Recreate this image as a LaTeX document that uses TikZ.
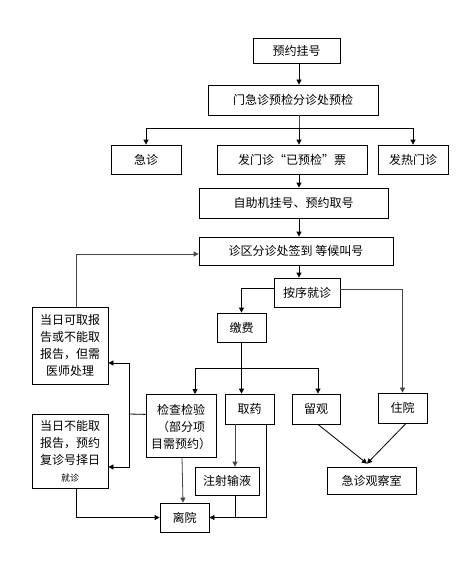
\documentclass[tikz,border=0pt]{standalone}
\usepackage{fontspec}
\setmainfont{Noto Sans CJK SC}
\usetikzlibrary{arrows.meta,calc}

\begin{document}
\begin{tikzpicture}[
  x=1pt, y=-1pt,
  font=\fontsize{12}{17}\selectfont,
  >={Triangle[length=5pt,width=5pt]},
  box/.style={draw, line width=0.8pt, inner sep=0pt, align=center, fill=white},
  flow/.style={->, line width=0.8pt},
  gflow/.style={flow, draw=gray!55!black},
  line/.style={line width=0.8pt},
  gline/.style={line, draw=gray!55!black},
]
\useasboundingbox[fill=white] (0,0) rectangle (468,567);

% ---- top of the flow
\node[box, minimum width=87, minimum height=25]  (yuyue)  at (296.5,50.5) {预约挂号};
\node[box, minimum width=170, minimum height=30] (yujian) at (293,100)    {门急诊预检分诊处预检};
\node[box, minimum width=70, minimum height=29]  (jizhen) at (146,159.5)  {急诊};
\node[box, minimum width=150, minimum height=29] (famen)  at (292,159.5)  {发门诊“已预检”票};
\node[box, minimum width=70, minimum height=29]  (fare)   at (413,159.5)  {发热门诊};
\node[box, minimum width=189, minimum height=30] (zizhu)  at (293.5,203)  {自助机挂号、预约取号};
\node[box, minimum width=194, minimum height=28] (fenzhen) at (296,251)   {诊区分诊处签到 等候叫号};
\node[box, minimum width=66, minimum height=29]  (anxu)   at (307,292.5)  {按序就诊};
\node[box, minimum width=49, minimum height=29]  (jiaofei) at (241.5,327.5) {缴费};

% ---- report boxes on the left
\node[box, minimum width=76, minimum height=77] (baogao1) at (70,345.5)
  {当日可取报\\告或不能取\\报告，但需\\医师处理};
\node[box, minimum width=76, minimum height=74] (baogao2) at (70,451)
  {当日不能取\\报告，预约\\复诊号择日\\{\fontsize{9}{12}\selectfont 就诊}};

% ---- after paying
\node[box, minimum width=70, minimum height=63, anchor=north] (jiancha) at (181,394)
  {\rule{0pt}{13pt}检查检验\\（部分项\\目需预约）};
\node[box, minimum width=49, minimum height=30] (quyao)   at (249.5,409) {取药};
\node[box, minimum width=48, minimum height=30] (liuguan) at (316,409)   {留观};
\node[box, minimum width=49, minimum height=30] (zhuyuan) at (402.5,408) {住院};
\node[box, minimum width=64, minimum height=28] (zhushe)  at (227,481)   {注射输液};
\node[box, minimum width=49, minimum height=29] (liyuan)  at (184.5,517.5) {离院};
\node[box, minimum width=89, minimum height=27] (guancha) at (371.5,480.5) {急诊观察室};

% ---- main line
\draw[flow] ($(yuyue.south)+(2.5,0)$) -- ($(yujian.north)+(6,0)$);
\draw[gline] ($(yujian.south)+(6,0)$) -- ++(0,13) coordinate (br1);
\draw[flow] (br1) -| (jizhen.north);
\draw[flow] (br1) -| (fare.north);
\draw[flow] (br1) -- (br1 |- famen.north);
\draw[flow] ($(famen.south)+(7,0)$) -- ($(zizhu.north)+(5.5,0)$);
\draw[flow] ($(zizhu.south)+(5.5,0)$) -- ($(fenzhen.north)+(3,0)$);
\draw[flow] ($(fenzhen.south)+(3,0)$) -- ($(anxu.north)+(-8,0)$);

% ---- branches from the visit
\draw[flow] ($(anxu.west)+(0,-4)$) -| (jiaofei.north);
\draw[gflow] ($(anxu.east)+(0,-3)$) -| (zhuyuan.north);
\draw[line] (jiaofei.south) -- ++(0,26) coordinate (br2);
\draw[flow] (br2) -| ($(jiancha.north)+(14,0)$);
\draw[flow] (br2) -- (br2 |- quyao.north);
\draw[flow] (br2) -| ($(liuguan.north)+(2,0)$);

% ---- reports loop back
\draw[line] ($(jiancha.west)+(0,-11.5)$) -- (129,414) coordinate (fb);
\draw[flow] (fb) |- ($(baogao1.east)+(0,17.5)$);
\draw[flow] (fb) |- ($(baogao2.east)+(0,16)$);
\draw[gflow] ($(baogao1.north)+(6,0)$) |- ($(fenzhen.west)+(0,3)$);

% ---- leaving
\draw[flow] ($(baogao2.south)+(6,0)$) |- (liyuan.west);
\draw[gflow] ($(jiancha.south)+(1,0)$) -- ($(liyuan.north)+(-1.5,0)$);
\draw[gflow] ($(quyao.south)+(-14.5,0)$) -- ($(zhushe.north)+(8,0)$);
\draw[flow] ($(quyao.south)+(16.5,0)$) |- (liyuan.east);
\draw[line] ($(zhushe.south)+(8,0)$) -- ($(zhushe.south)+(8,22)$);

% ---- observation room
\draw[flow] ($(liuguan.south)+(2,0)$) -- ($(guancha.north)+(-4.5,-3)$);
\draw[flow] ($(zhuyuan.south)+(3.5,0)$) -- ($(guancha.north)+(-4.5,-3)$);
\end{tikzpicture}
\end{document}
